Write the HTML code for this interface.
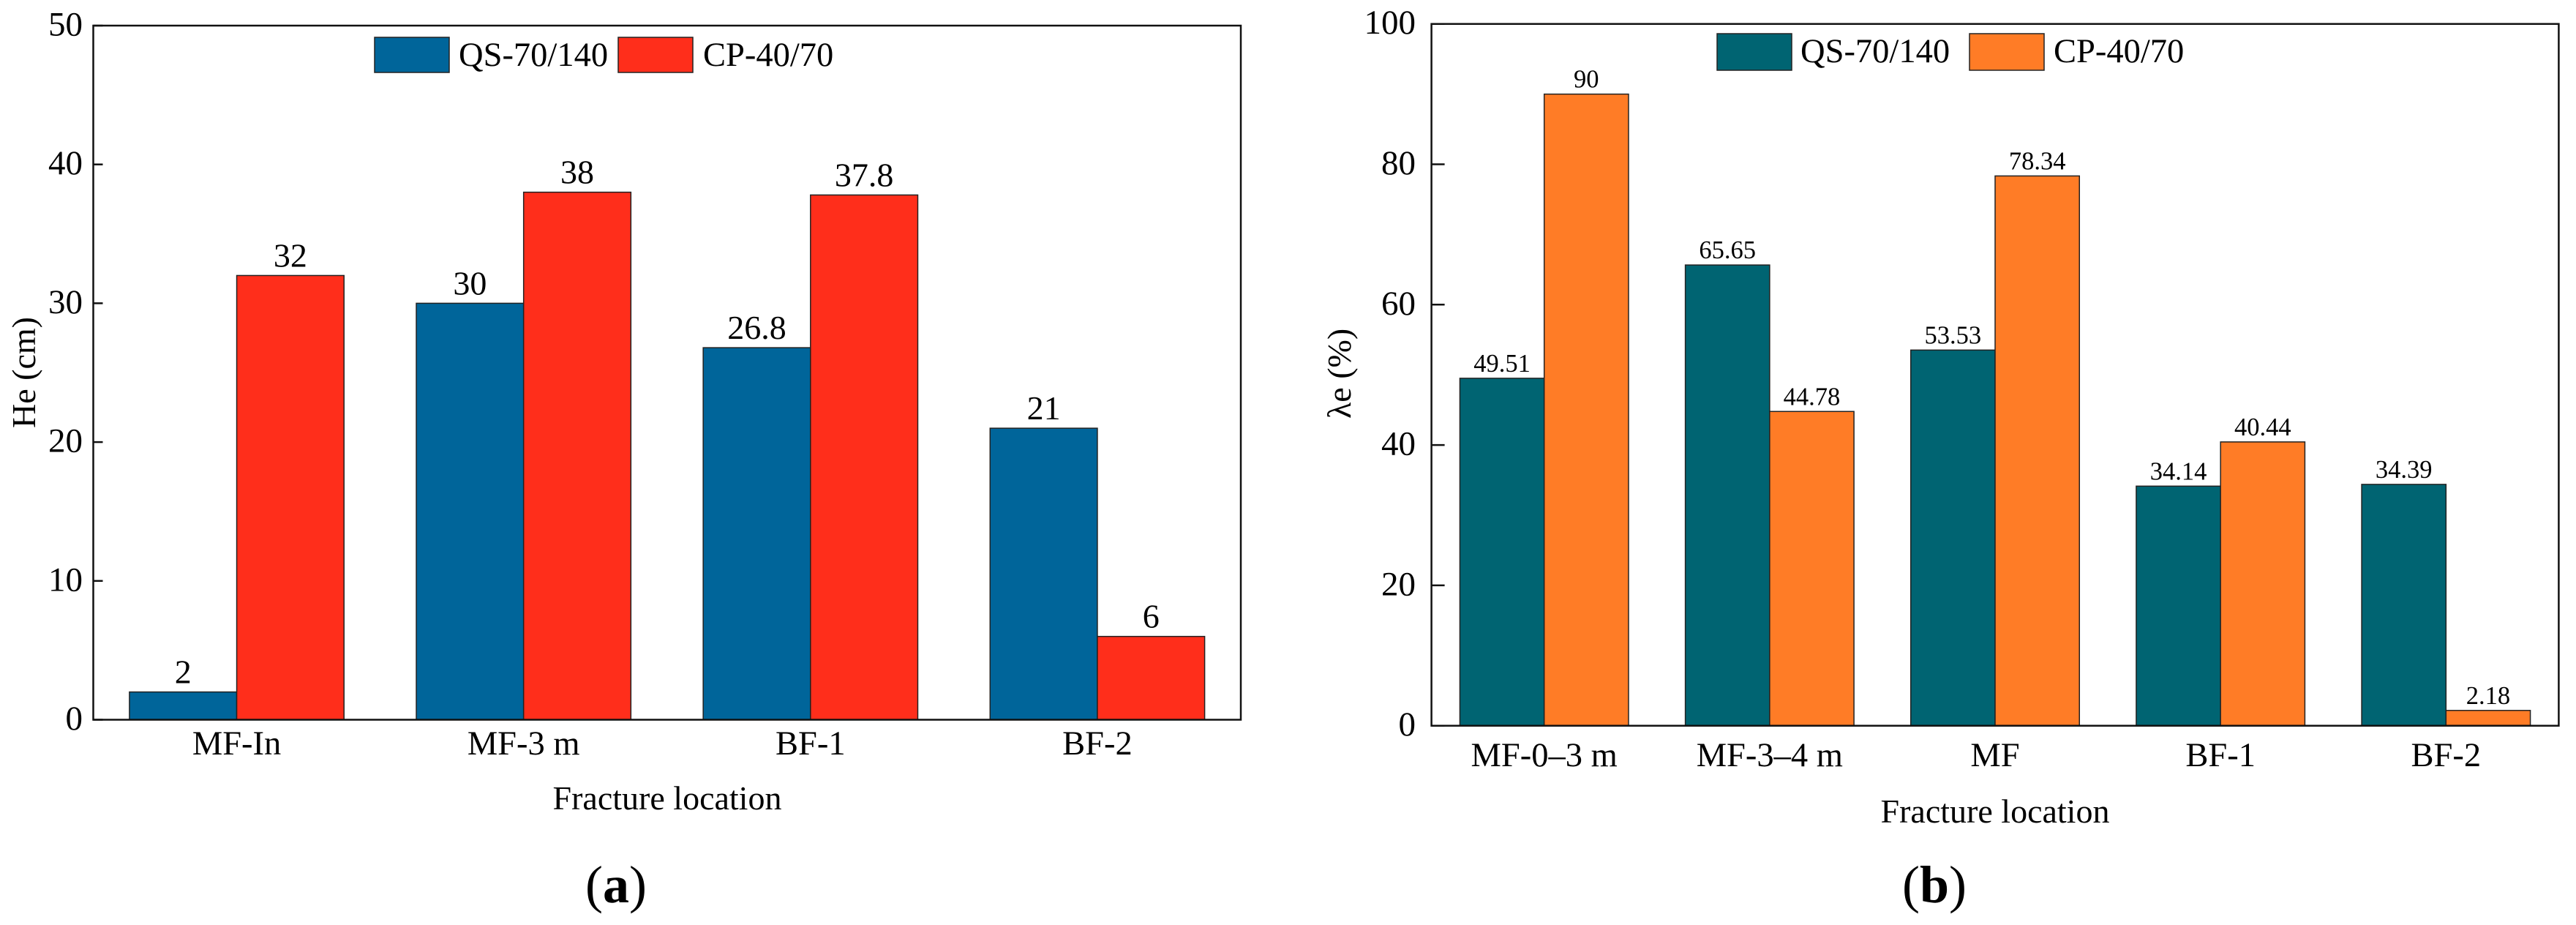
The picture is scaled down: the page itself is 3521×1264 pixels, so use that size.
<!DOCTYPE html>
<html lang="en">
<head>
<meta charset="utf-8">
<title>Fracture location bar charts</title>
<style>
html,body{margin:0;padding:0;background:#fff;width:3521px;height:1264px;overflow:hidden}
svg{display:block;position:absolute;left:0;top:0}
text{font-family:"Liberation Serif","Noto Serif CJK SC",serif;fill:#000}
</style>
</head>
<body>
<svg id="figure" xmlns="http://www.w3.org/2000/svg" width="3521" height="1264" viewBox="0 0 3521 1264">
  <rect x="0" y="0" width="3521" height="1264" fill="#fff"/>
  <g id="chart-a">
    <g id="a-bars"></g>
    <g id="a-ticks"></g>
    <rect x="127.5" y="35" width="1568.5" height="948.5" fill="none" stroke="#111" stroke-width="2.5"/>
    <text transform="translate(48,585) rotate(-90)" font-size="46">He (cm)</text>
    <text x="912" y="1106" font-size="46" text-anchor="middle">Fracture location</text>
    <g>
      <rect x="512" y="51" width="102" height="48" fill="#00659a" stroke="#222" stroke-width="1.5"/>
      <text x="627" y="90" font-size="46.5">QS-70/140</text>
      <rect x="845" y="51" width="102" height="48" fill="#ff2e1b" stroke="#222" stroke-width="1.5"/>
      <text x="961" y="90" font-size="46.5">CP-40/70</text>
    </g>
    <text x="842" y="1233" font-size="72" text-anchor="middle">(<tspan font-weight="bold">a</tspan>)</text>
  </g>
  <g id="chart-b">
    <g id="b-bars"></g>
    <g id="b-ticks"></g>
    <rect x="1956.6" y="32.7" width="1540.8" height="959" fill="none" stroke="#111" stroke-width="2.5"/>
    <text transform="translate(1846,572) rotate(-90)" font-size="46">λe (%)</text>
    <text x="2727" y="1124" font-size="46" text-anchor="middle">Fracture location</text>
    <g>
      <rect x="2347" y="46" width="102" height="50" fill="#006472" stroke="#222" stroke-width="1.5"/>
      <text x="2461" y="85" font-size="46.5">QS-70/140</text>
      <rect x="2692" y="46" width="102" height="50" fill="#ff7c26" stroke="#222" stroke-width="1.5"/>
      <text x="2807" y="85" font-size="46.5">CP-40/70</text>
    </g>
    <text x="2644" y="1233" font-size="72" text-anchor="middle">(<tspan font-weight="bold">b</tspan>)</text>
  </g>
</svg>
<script>
var aCategories = ['MF-In', 'MF-3 m', 'BF-1', 'BF-2'];
var aQuartzSand = [2, 30, 26.8, 21];
var aCeramsite = [32, 38, 37.8, 6];
var aTicks = [0, 10, 20, 30, 40, 50];

var bCategories = ['MF-0–3 m', 'MF-3–4 m', 'MF', 'BF-1', 'BF-2'];
var bQuartzSand = [49.51, 65.65, 53.53, 34.14, 34.39];
var bCeramsite = [90, 44.78, 78.34, 40.44, 2.18];
var bTicks = [0, 20, 40, 60, 80, 100];

var SVG_NS = 'http://www.w3.org/2000/svg';

function makeElement(tag, parent, attrs, content) {
  var el = document.createElementNS(SVG_NS, tag);
  Object.keys(attrs).forEach(function (k) { el.setAttribute(k, attrs[k]); });
  if (content !== undefined) el.textContent = content;
  parent.appendChild(el);
  return el;
}

function drawChart(cfg) {
  var bars = document.getElementById(cfg.barsId);
  var ticks = document.getElementById(cfg.ticksId);
  var band = (cfg.right - cfg.left) / cfg.categories.length;
  var barW = band * cfg.barRatio;
  function yScale(v) { return cfg.bottom - (v / cfg.max) * (cfg.bottom - cfg.top); }
  function xCenter(i) { return cfg.left + band * (i + 0.5); }

  cfg.categories.forEach(function (cat, i) {
    var c = xCenter(i);
    var catLabel = makeElement('text', bars, { x: c, y: cfg.catBaseline, 'font-size': 46.5, 'text-anchor': 'middle' }, cat);
    
    

    [{ vals: cfg.seriesA, fill: cfg.colorA, x: c - barW }, { vals: cfg.seriesB, fill: cfg.colorB, x: c }].forEach(function (s) {
      var v = s.vals[i];
      var top = yScale(v);
      var rect = makeElement('rect', bars, { x: s.x, y: top, width: barW, height: cfg.bottom - top, fill: s.fill, stroke: '#222', 'stroke-width': 1.5 });
      
      
      var label = makeElement('text', bars, { x: s.x + barW / 2, y: top - cfg.labelGap, 'font-size': cfg.labelSize, 'text-anchor': 'middle' }, String(v));
      
      
    });
  });

  cfg.ticks.forEach(function (t) {
    var y = yScale(t);
    var mark = makeElement('line', ticks, { x1: cfg.left, x2: cfg.left + cfg.tickLen, y1: y, y2: y, stroke: '#111', 'stroke-width': 2.5 });
    
    
    var tickLabel = makeElement('text', ticks, { x: cfg.tickRight, y: y + 13.5, 'font-size': 47, 'text-anchor': 'end' }, String(t));
    
    
  });
}

drawChart({
  barsId: 'a-bars', ticksId: 'a-ticks',
  categories: aCategories, seriesA: aQuartzSand, seriesB: aCeramsite, ticks: aTicks,
  max: 50, left: 127.5, right: 1696, top: 35, bottom: 983.5,
  barRatio: 0.374, colorA: '#00659a', colorB: '#ff2e1b',
  labelSize: 46, labelGap: 12, tickLen: 13, tickRight: 113, catBaseline: 1031
});

drawChart({
  barsId: 'b-bars', ticksId: 'b-ticks',
  categories: bCategories, seriesA: bQuartzSand, seriesB: bCeramsite, ticks: bTicks,
  max: 100, left: 1956.6, right: 3497.4, top: 32.7, bottom: 991.7,
  barRatio: 0.374, colorA: '#006472', colorB: '#ff7c26',
  labelSize: 34.5, labelGap: 9, tickLen: 18, tickRight: 1935, catBaseline: 1047
});
</script>
</body>
</html>
